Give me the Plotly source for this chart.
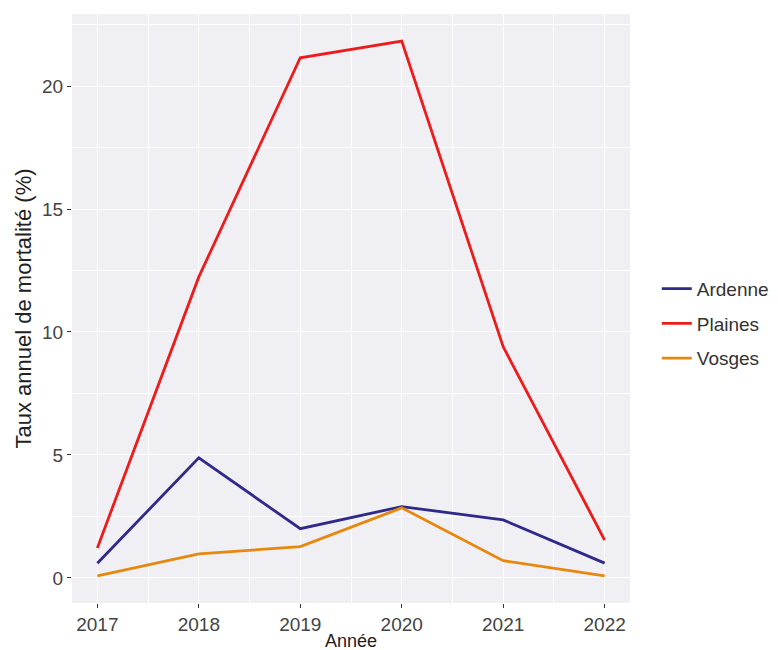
import plotly.graph_objects as go

years = [2017, 2018, 2019, 2020, 2021, 2022]
ardenne = [0.6, 4.88, 2.0, 2.9, 2.36, 0.6]
plaines = [1.22, 12.24, 21.15, 21.83, 9.4, 1.54]
vosges = [0.08, 0.98, 1.27, 2.85, 0.7, 0.08]

series = [("Ardenne", ardenne, "#2F2A8A"),
          ("Plaines", plaines, "#EC1C1C"),
          ("Vosges", vosges, "#E8870E")]

fig = go.Figure()
for name, vals, col in series:
    fig.add_trace(go.Scatter(x=years, y=vals, mode="lines", name=name,
                             legendgroup=name,
                             line=dict(color=col, width=2.8)))

fig.update_layout(
    width=778, height=650,
    margin=dict(l=64, r=156, t=6, b=55),
    paper_bgcolor="white",
    plot_bgcolor="#F0F0F4",
    font=dict(family="Liberation Sans, Arial, sans-serif", color="#444444"),
    showlegend=True,
    legend=dict(x=1.048, y=0.474, xanchor="left", yanchor="middle",
                font=dict(size=19, color="#333333"), bgcolor="rgba(0,0,0,0)",
                tracegroupgap=7, itemwidth=30),
)
fig.update_xaxes(
    range=[2016.75, 2022.25], tickmode="array", tickvals=years,
    ticktext=[str(y) for y in years],
    showgrid=True, gridcolor="white", gridwidth=1.4, zeroline=False,
    minor=dict(dtick=0.5, showgrid=True, gridcolor="white", gridwidth=0.6),
    ticks="outside", ticklen=4, tickcolor="#333333", tickwidth=1,
    tickfont=dict(size=19, color="#444444"),
    title=dict(text="Année", font=dict(size=18, color="#222222"), standoff=0),
    showline=False,
)
fig.update_yaxes(
    range=[-1.02, 22.93], tickmode="array", tickvals=[0, 5, 10, 15, 20],
    showgrid=True, gridcolor="white", gridwidth=1.4, zeroline=False,
    minor=dict(dtick=2.5, showgrid=True, gridcolor="white", gridwidth=0.6),
    ticks="outside", ticklen=4, tickcolor="#333333", tickwidth=1,
    tickfont=dict(size=19, color="#444444"),
    title=dict(text="Taux annuel de mortalité (%)", font=dict(size=22, color="#222222"), standoff=4),
    showline=False,
)

fig.write_html("out.html")
